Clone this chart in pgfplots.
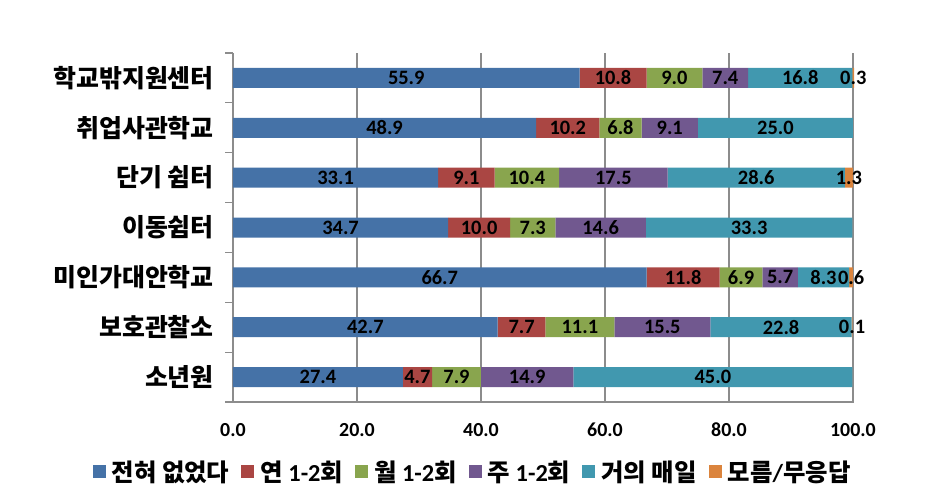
\documentclass[border=0pt]{standalone}
\usepackage{pgfplots}
\pgfplotsset{compat=1.18}
\usepackage{fontspec}
\setmainfont{Carlito}
\newfontfamily\kr{Noto Sans CJK KR}

\definecolor{cA}{HTML}{4572A7}
\definecolor{cB}{HTML}{AA4643}
\definecolor{cC}{HTML}{89A54E}
\definecolor{cD}{HTML}{71588F}
\definecolor{cE}{HTML}{4198AF}
\definecolor{cF}{HTML}{DB843D}
\definecolor{axgray}{HTML}{8C8C8C}

\begin{document}
\begin{tikzpicture}
\path (-233bp,-101bp) rectangle (716bp,402bp);
\begin{axis}[
    at={(0,0)}, anchor=south west,
    scale only axis,
    width=621.2bp, height=349bp,
    xbar stacked,
    bar width=20bp,
    xmin=0, xmax=100.2,
    ymin=-0.5, ymax=6.5,
    xtick={0,20,...,100},
    ytick={0,...,6},
    yticklabels={{\kr 소년원},{\kr 보호관찰소},{\kr 미인가대안학교},{\kr 이동쉼터},{\kr 단기 쉼터},{\kr 취업사관학교},{\kr 학교밖지원센터}},
    minor ytick={-0.5,0.5,...,6.5},
    major tick length=0bp,
    minor tick length=8bp,
    tick align=outside,
    minor y tick style={axgray, line width=1.2bp},
    axis lines*=left,
    axis line style={axgray, line width=1.5bp},
    xmajorgrids,
    grid style={axgray, line width=1.2bp},
    clip=false,
    xticklabel style={font=\bfseries\fontsize{20}{23}\selectfont, inner ysep=21bp},
    yticklabel style={font=\bfseries\fontsize{25}{28}\selectfont, inner xsep=19bp},
    /pgf/number format/.cd, fixed, fixed zerofill, precision=1, assume math mode=true,
    /pgfplots/.cd,
    point meta=explicit symbolic,
    nodes near coords={\ifdim\pgfplotspointmeta pt>0pt\pgfplotspointmeta\fi},
    every node near coord/.append style={anchor=center,
        font=\bfseries\fontsize{20.5}{23}\selectfont, text=black, inner sep=0pt},
    legend columns=6,
    legend style={at={(0.384,-0.2)}, anchor=center, draw=none, fill=none,
        font=\bfseries\fontsize{24.5}{27}\selectfont,
        nodes={inner xsep=0pt},
        /tikz/every odd column/.append style={column sep=6bp},
        /tikz/every even column/.append style={column sep=12bp}},
    legend image code/.code={\fill[#1] (0bp,-6.5bp) rectangle (13bp,6.5bp);},
]
\addplot[fill=cA, draw=none] coordinates {(27.4,0)[27.4] (42.7,1)[42.7] (66.7,2)[66.7] (34.7,3)[34.7] (33.1,4)[33.1] (48.9,5)[48.9] (55.9,6)[55.9]};
\addplot[fill=cB, draw=none] coordinates {(4.7,0)[4.7] (7.7,1)[7.7] (11.8,2)[11.8] (10.0,3)[10.0] (9.1,4)[9.1] (10.2,5)[10.2] (10.8,6)[10.8]};
\addplot[fill=cC, draw=none] coordinates {(7.9,0)[7.9] (11.1,1)[11.1] (6.9,2)[6.9] (7.3,3)[7.3] (10.4,4)[10.4] (6.8,5)[6.8] (9.0,6)[9.0]};
\addplot[fill=cD, draw=none] coordinates {(14.9,0)[14.9] (15.5,1)[15.5] (5.7,2)[5.7] (14.6,3)[14.6] (17.5,4)[17.5] (9.1,5)[9.1] (7.4,6)[7.4]};
\addplot[fill=cE, draw=none] coordinates {(45.0,0)[45.0] (22.8,1)[22.8] (8.3,2)[8.3] (33.3,3)[33.3] (28.6,4)[28.6] (25.0,5)[25.0] (16.8,6)[16.8]};
\addplot[fill=cF, draw=none] coordinates {(0,0)[0] (0.1,1)[0.1] (0.6,2)[0.6] (0,3)[0] (1.3,4)[1.3] (0,5)[0] (0.3,6)[0.3]};
\legend{{\kr 전혀 없었다},{\kr 연} 1-2{\kr 회},{\kr 월} 1-2{\kr 회},{\kr 주} 1-2{\kr 회},{\kr 거의 매일},{\kr 모름}/{\kr 무응답}}
\end{axis}
\end{tikzpicture}
\end{document}
